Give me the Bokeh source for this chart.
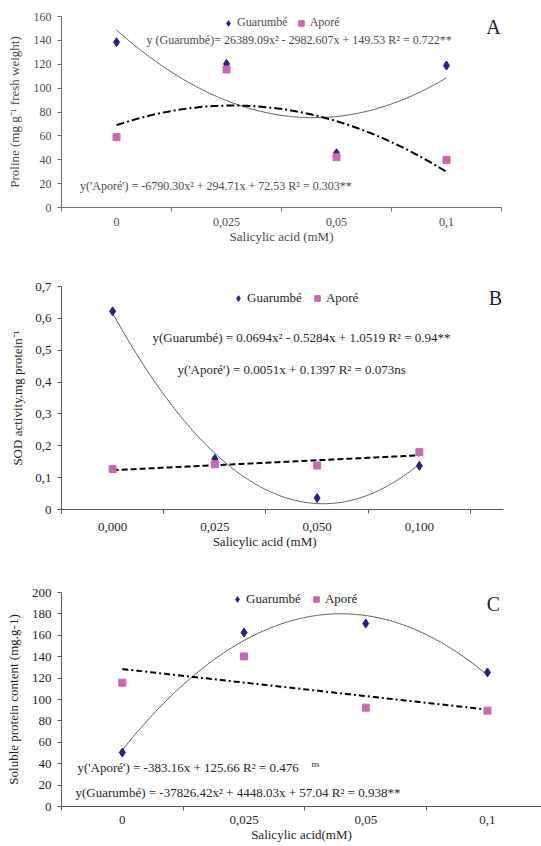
import numpy as np
from bokeh.plotting import figure
from bokeh.models import Range1d, FixedTicker, Label, Legend, LegendItem
from bokeh.layouts import column
from bokeh.embed import file_html
from bokeh.resources import INLINE

# ---------------- data ----------------
cats_A = ["0", "0,025", "0,05", "0,1"]
cats_B = ["0,000", "0,025", "0,050", "0,100"]
cats_C = ["0", "0,025", "0,05", "0,1"]

proline_guarumbe = [138.5, 120.3, 45.5, 118.9]
proline_apore = [58.9, 115.6, 42.1, 39.9]

sod_guarumbe = [0.622, 0.159, 0.036, 0.137]
sod_apore = [0.127, 0.142, 0.138, 0.180]

protein_guarumbe = [50.4, 162.6, 171.0, 125.3]
protein_apore = [115.7, 140.3, 92.4, 89.6]

yticks_A = [0, 20, 40, 60, 80, 100, 120, 140, 160]
yticks_B = [0, 0.1, 0.2, 0.3, 0.4, 0.5, 0.6, 0.7]
ylabels_B = ["0", "0,1", "0,2", "0,3", "0,4", "0,5", "0,6", "0,7"]
yticks_C = [0, 20, 40, 60, 80, 100, 120, 140, 160, 180, 200]

eq_A = ["y (Guarumbé)= 26389.09x² - 2982.607x + 149.53 R² = 0.722**",
        "y('Aporé') = -6790.30x² + 294.71x + 72.53 R² = 0.303**"]
eq_B = ["y(Guarumbé) = 0.0694x² - 0.5284x + 1.0519 R² = 0.94**",
        "y('Aporé') = 0.0051x + 0.1397 R² = 0.073ns"]
eq_C = ["y('Aporé') = -383.16x + 125.66 R² = 0.476",
        "y(Guarumbé) = -37826.42x² + 4448.03x + 57.04 R² = 0.938**"]

FONT = "Liberation Serif"
BLUE = "#23237f"
PINK = "#cc66b0"
NBSP = "\u00a0"


def panel(cats, g, a, a_deg, xend, yr, yticks, ylabels, ylabel, xlabel,
          letter, h, top, bottom, left, right, txtcol, axcol, fs, dash,
          ylab_standoff, xstand, xlab_standoff, leg_loc, leg_spacing,
          letter_loc):
    n = len(cats)
    xs = list(range(1, n + 1))
    p = figure(width=541, height=h, x_range=Range1d(0.5, xend),
               y_range=Range1d(*yr), output_backend="svg",
               toolbar_location=None, min_border_left=left,
               min_border_right=right, min_border_top=top,
               min_border_bottom=bottom, frame_align=False)
    p.grid.visible = False
    p.outline_line_color = None

    # trendlines (least-squares fits of the plotted points)
    xx = np.linspace(1, n, 120)
    cg = np.polyfit(xs, g, 2)
    p.line(xx, np.polyval(cg, xx), line_color="#606060", line_width=1)
    ca = np.polyfit(xs, a, a_deg)
    p.line(xx, np.polyval(ca, xx), line_color="black", line_width=2,
           line_dash=dash)

    rg = p.scatter(xs, g, marker="diamond", size=9, color=BLUE)
    ra = p.scatter(xs, a, marker="square", size=7, color=PINK)

    xa = p.xaxis[0]
    xa.ticker = FixedTicker(ticks=xs,
                            minor_ticks=[i + 0.5 for i in range(0, n + 1)])
    xa.major_label_overrides = {i: c for i, c in zip(xs, cats)}
    xa.major_tick_out = 0
    xa.major_tick_in = 0
    xa.minor_tick_out = 4
    xa.minor_tick_in = 0
    xa.major_label_standoff = xstand
    xa.axis_label = xlabel
    xa.axis_label_standoff = xlab_standoff

    ya = p.yaxis[0]
    ya.ticker = FixedTicker(ticks=yticks, minor_ticks=[])
    if ylabels is not None:
        ya.major_label_overrides = {t: l for t, l in zip(yticks, ylabels)}
    ya.major_tick_out = 4
    ya.major_tick_in = 0
    ya.minor_tick_out = 0
    ya.major_label_standoff = 6
    ya.axis_label = ylabel
    ya.axis_label_standoff = ylab_standoff

    for ax in (xa, ya):
        ax.axis_line_color = axcol
        ax.major_tick_line_color = axcol
        ax.minor_tick_line_color = axcol
        ax.major_label_text_font = FONT
        ax.major_label_text_font_size = fs
        ax.major_label_text_color = txtcol
        ax.axis_label_text_font = FONT
        ax.axis_label_text_font_size = "13px"
        ax.axis_label_text_font_style = "normal"
        ax.axis_label_text_color = txtcol

    leg = Legend(items=[LegendItem(label="Guarumbé", renderers=[rg]),
                        LegendItem(label="Aporé", renderers=[ra])],
                 orientation="horizontal", location=leg_loc,
                 border_line_color=None, background_fill_alpha=0,
                 padding=0, margin=0, spacing=leg_spacing, glyph_width=14,
                 glyph_height=14, label_height=14, label_standoff=2,
                 label_text_font=FONT, label_text_font_size=fs,
                 label_text_color=txtcol)
    p.add_layout(leg)

    p.add_layout(Label(x=letter_loc[0], y=letter_loc[1], x_units="screen",
                       y_units="screen", text=letter, text_font=FONT,
                       text_font_size="20px", text_color="#222222",
                       text_align="center", text_baseline="middle"))
    return p


def eq(p, x, y, text, col, fs):
    p.add_layout(Label(x=x, y=y, text=text, text_font=FONT,
                       text_font_size=fs, text_color=col,
                       text_align="left", text_baseline="middle"))


# Panel A  (frame 61..501 px, 16..207 px)
pA = panel(cats_A, proline_guarumbe, proline_apore, 2, 4.5, (0, 160),
           yticks_A, None, "Proline (mg g⁻¹ fresh weight)",
           "Salicylic acid (mM)", "A",
           h=255, top=16, bottom=48, left=61, right=40,
           txtcol="#4a4a4a", axcol="#6a6a6a", fs="12px", dash="8 3 2 3",
           ylab_standoff=9, xstand=6, xlab_standoff=0,
           leg_loc=(160, 177), leg_spacing=6, letter_loc=(432, 181))
eq(pA, 1.273, 139.9, eq_A[0], "#4a4a4a", "12px")
eq(pA, 0.669, 18.4, eq_A[1], "#4a4a4a", "12px")

# Panel B  (frame 61..503 px, 286..509 px)
pB = panel(cats_B, sod_guarumbe, sod_apore, 1, 4.823, (0, 0.7), yticks_B,
           ylabels_B, "SOD activity.mg protein⁻¹",
           "Salicylic acid (mM)" + NBSP * 11, "B",
           h=302, top=31, bottom=48, left=61, right=38,
           txtcol="#1e1e1e", axcol="#555555", fs="13px", dash="6 3",
           ylab_standoff=7, xstand=9, xlab_standoff=0,
           leg_loc=(170, 203), leg_spacing=8, letter_loc=(434, 212))
eq(pB, 1.39, 0.54, eq_B[0], "#1e1e1e", "13px")
eq(pB, 1.634, 0.4395, eq_B[1], "#1e1e1e", "13px")

# Panel C  (frame 61..541 px, 592..806 px)
pC = panel(cats_C, protein_guarumbe, protein_apore, 1, 4.444, (0, 200),
           yticks_C, None, "Soluble protein content (mg.g-1)",
           "Salicylic acid(mM)", "C",
           h=289, top=35, bottom=40, left=61, right=0,
           txtcol="#1e1e1e", axcol="#555555", fs="13px", dash="6 3 2 3",
           ylab_standoff=8, xstand=5, xlab_standoff=0,
           leg_loc=(169, 199), leg_spacing=8, letter_loc=(432, 203))
eq(pC, 0.631, 36.4, eq_C[0], "#1e1e1e", "13px")
pC.add_layout(Label(x=2.554, y=39.5, text="ns", text_font=FONT,
                    text_font_size="9px", text_color="#1e1e1e",
                    text_align="left", text_baseline="middle"))
eq(pC, 0.615, 13.1, eq_C[1], "#1e1e1e", "13px")

layout = column(pA, pB, pC)
open("out.html", "w").write(file_html(layout, INLINE))
